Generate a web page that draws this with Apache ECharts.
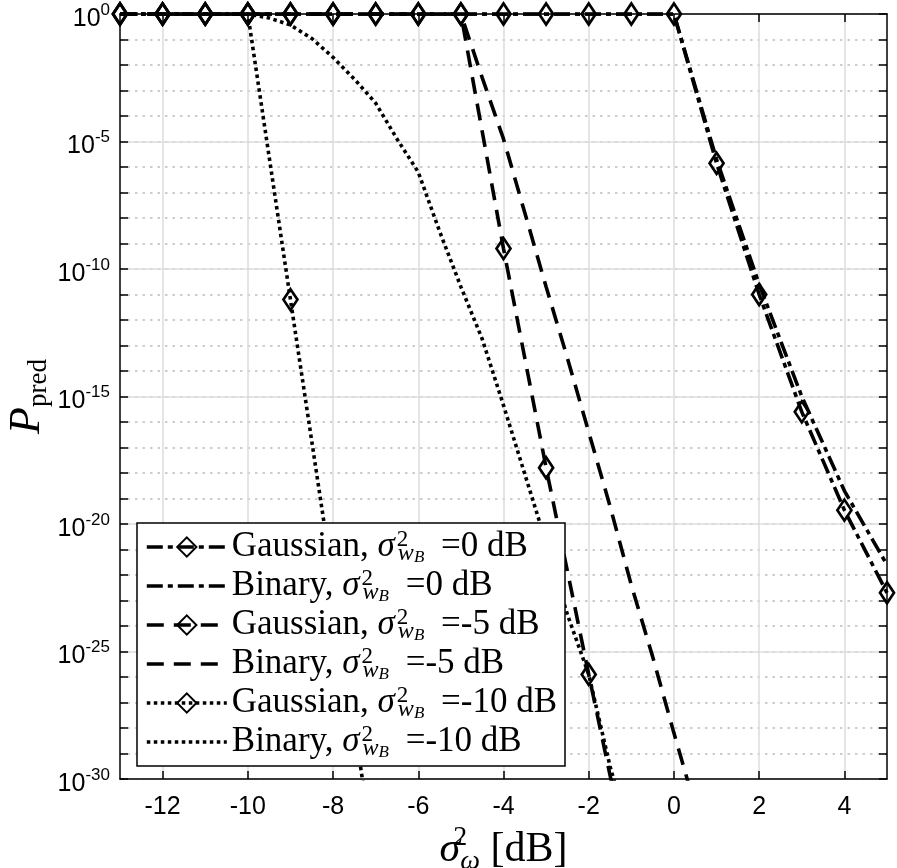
<!DOCTYPE html>
<html><head><meta charset="utf-8">
<script src="https://cdn.jsdelivr.net/npm/echarts@6/dist/echarts.min.js"></script>
<style>html,body{margin:0;padding:0;background:#fff}#c{width:897px;height:868px}</style>
</head><body><div id="c"></div>
<script>
// ---- data ----
const xGauss0 = [-13,-12,-11,-10,-9,-8,-7,-6,-5,-4,-3,-2,-1,0,1,2,3,4,5];
const yGauss0 = [1,1,1,1,1,1,1,1,1,1,1,1,1,1,1.4e-6,1e-11,2.5e-16,3.5e-20,2e-23];
const xBinary0 = [-13,-12,-11,-10,-9,-8,-7,-6,-5,-4,-3,-2,-1,0,1,2,3,4,5];
const yBinary0 = [1,1,1,1,1,1,1,1,1,1,1,1,1,1,2e-6,2.5e-11,1e-15,2e-19,2.5e-22];
const xGaussM5 = [-13,-12,-11,-10,-9,-8,-7,-6,-5,-4,-3,-2,-1];
const yGaussM5 = [1,1,1,1,1,1,1,1,1,6.3e-10,1.6e-18,1.26e-26,1.6e-34];
const xBinaryM5 = [-13,-12,-11,-10,-9,-8,-7,-6,-5,-4.5,-4,-3.5,-3,-2.5,-2,-1.5,-1,-0.5,0,0.5];
const yBinaryM5 = [1,1,1,1,1,1,1,1,1,3.2e-3,1.26e-5,1.6e-8,2e-11,3.2e-14,4e-17,5e-20,4e-23,6.3e-26,6.3e-29,8e-32];
const xGaussM10 = [-13,-12,-11,-10,-9,-8,-7];
const yGaussM10 = [1,1,1,1,6.3e-12,5e-23,3.2e-34];
const xBinaryM10 = [-13,-12,-11,-10,-9.5,-9,-8.5,-8,-7.5,-7,-6.5,-6,-5.5,-5,-4.5,-4,-3.5,-3,-2.5,-2,-1.5,-1];
const yBinaryM10 = [1,1,1,1,0.7,0.37,0.11,0.02,2.8e-3,3.2e-4,1.26e-5,6.3e-7,3e-9,2e-11,1.8e-13,4.5e-16,9e-19,1.8e-21,2.8e-24,1.26e-26,3.2e-30,3.2e-33];

const seriesKinds = ['Gaussian','Binary','Gaussian','Binary','Gaussian','Binary'];
const seriesLevels = ['0','0','-5','-5','-10','-10'];
const seriesNames = ['Gaussian, 0 dB','Binary, 0 dB','Gaussian, -5 dB','Binary, -5 dB','Gaussian, -10 dB','Binary, -10 dB'];

const xTickValues = [-12,-10,-8,-6,-4,-2,0,2,4];
const yDecadeTicks = [1,1e-1,1e-2,1e-3,1e-4,1e-5,1e-6,1e-7,1e-8,1e-9,1e-10,1e-11,1e-12,1e-13,1e-14,1e-15,1e-16,1e-17,1e-18,1e-19,1e-20,1e-21,1e-22,1e-23,1e-24,1e-25,1e-26,1e-27,1e-28,1e-29,1e-30];
const yLabelValues = [1,1e-5,1e-10,1e-15,1e-20,1e-25,1e-30];

// ---- build ----
const zip = (xs, ys) => xs.map((x, i) => [x, ys[i]]);
const dashDot = [16, 5, 5, 5];
const dashed = [17, 10];
const dotted = [3.5, 3.5];
const LW = 3.6;

const markerStyle = {color: 'none', borderColor: '#000', borderWidth: 2.8};
const noMarkerStyle = {color: 'none', borderColor: 'none', borderWidth: 0};
function mk(name, xs, ys, dash, marker) {
  return {
    name, type: 'line', data: zip(xs, ys),
    symbol: marker ? 'diamond' : 'none', symbolSize: [14, 21], showSymbol: !!marker,
    itemStyle: marker ? markerStyle : noMarkerStyle,
    lineStyle: {color: '#000', width: LW, type: dash, cap: 'butt'},
    animation: false, clip: true, z: 3
  };
}

const series = [
  mk(seriesNames[0], xGauss0, yGauss0, dashDot, true),
  mk(seriesNames[1], xBinary0, yBinary0, dashDot, false),
  mk(seriesNames[2], xGaussM5, yGaussM5, dashed, true),
  mk(seriesNames[3], xBinaryM5, yBinaryM5, dashed, false),
  mk(seriesNames[4], xGaussM10, yGaussM10, dotted, true),
  mk(seriesNames[5], xBinaryM10, yBinaryM10, dotted, false)
];

const serif = 'Liberation Serif';
const sans = 'Liberation Sans';
const axisLineStyle = {color: '#000', width: 1.5};

const chart = echarts.init(document.getElementById('c'), null, {renderer: 'canvas'});
chart.setOption({
  animation: false,
  backgroundColor: '#fff',
  grid: {left: 120, right: 10, top: 14, bottom: 89, containLabel: false, outerBoundsMode: 'none'},
  legend: {
    left: 137, top: 523, orient: 'vertical',
    data: seriesNames,
    itemWidth: 80, itemHeight: 24, itemGap: 1,
    padding: [5, 8, 5, 8],
    backgroundColor: '#fff', borderColor: '#000', borderWidth: 1.5, borderRadius: 0,
    selectedMode: false,
    lineStyle: {width: LW},
    formatter: function (name) {
      const i = seriesNames.indexOf(name);
      return '{t|' + seriesKinds[i] + ', }{s|σ}{sup|2}{sub|w}{subB|B}{t| =' + seriesLevels[i] + ' dB}';
    },
    textStyle: {
      color: '#000', fontFamily: serif, fontSize: 35, lineHeight: 38,
      rich: {
        t: {fontFamily: serif, fontSize: 35, color: '#000', lineHeight: 38},
        s: {fontFamily: serif, fontStyle: 'italic', fontSize: 35, color: '#000', lineHeight: 38},
        sup: {fontFamily: serif, fontSize: 23, color: '#000', verticalAlign: 'top', width: 0, padding: [0, 0, 0, 2]},
        sub: {fontFamily: serif, fontStyle: 'italic', fontSize: 24, color: '#000', verticalAlign: 'bottom', padding: [0, 0, 0, 1]},
        subB: {fontFamily: serif, fontStyle: 'italic', fontSize: 17, color: '#000', verticalAlign: 'bottom', padding: [0, 8, 0, 0]}
      }
    }
  },
  xAxis: [
    {
      type: 'value', min: -13, max: 5, position: 'bottom',
      axisLine: {show: true, onZero: false, lineStyle: axisLineStyle},
      axisTick: {show: true, inside: true, length: 8, customValues: xTickValues, lineStyle: axisLineStyle},
      axisLabel: {customValues: xTickValues, fontFamily: sans, fontSize: 25, color: '#000', margin: 16},
      splitLine: {show: true, lineStyle: {color: '#dcdcdc', width: 1.5}},
      name: '{s|σ}{sup|2}{sub|ω}{t| [dB]}',
      nameLocation: 'middle', nameGap: 45, nameMoveOverlap: false,
      nameTextStyle: {
        color: '#000', fontFamily: serif, fontSize: 42, lineHeight: 52,
        rich: {
          s: {fontFamily: serif, fontStyle: 'italic', fontSize: 42, color: '#000'},
          sup: {fontFamily: serif, fontSize: 28, color: '#000', verticalAlign: 'top', width: 0, lineHeight: 14},
          sub: {fontFamily: serif, fontStyle: 'italic', fontSize: 28, color: '#000', verticalAlign: 'bottom', lineHeight: 24},
          t: {fontFamily: serif, fontSize: 42, color: '#000'}
        }
      }
    },
    {
      type: 'value', min: -13, max: 5, position: 'top',
      axisLine: {show: true, onZero: false, lineStyle: axisLineStyle},
      axisTick: {show: true, inside: true, length: 8, customValues: xTickValues, lineStyle: axisLineStyle},
      axisLabel: {show: false},
      splitLine: {show: false}
    }
  ],
  yAxis: [
    {
      type: 'log', logBase: 10, min: 1e-30, max: 1, position: 'left',
      axisLine: {show: true, onZero: false, lineStyle: axisLineStyle},
      axisTick: {show: true, inside: true, length: 8, customValues: yDecadeTicks, lineStyle: axisLineStyle},
      axisLabel: {
        customValues: yLabelValues, margin: 10,
        formatter: function (v) { return '{b|10}{e|' + Math.round(Math.log10(v)) + '}'; },
        rich: {
          b: {fontFamily: sans, fontSize: 25, color: '#000', padding: [10, 0, 0, 0]},
          e: {fontFamily: sans, fontSize: 17, color: '#000', verticalAlign: 'top', padding: [5, 0, 0, 0]}
        }
      },
      splitLine: {show: true, lineStyle: {color: '#bdbdbd', width: 1.5, type: [2.5, 5]}},
      name: '{P|P}{sub|pred}',
      nameLocation: 'middle', nameGap: 68, nameRotate: 90, nameMoveOverlap: false,
      nameTextStyle: {
        color: '#000', fontFamily: serif, fontSize: 44, lineHeight: 50,
        rich: {
          P: {fontFamily: serif, fontStyle: 'italic', fontSize: 44, color: '#000'},
          sub: {fontFamily: serif, fontSize: 27, color: '#000', verticalAlign: 'bottom'}
        }
      }
    },
    {
      type: 'log', logBase: 10, min: 1e-30, max: 1, position: 'right',
      axisLine: {show: true, onZero: false, lineStyle: axisLineStyle},
      axisTick: {show: true, inside: true, length: 8, customValues: yDecadeTicks, lineStyle: axisLineStyle},
      axisLabel: {show: false},
      splitLine: {show: false}
    },
    {
      type: 'log', logBase: 10, min: 1e-30, max: 1, position: 'left',
      axisLine: {show: false, onZero: false},
      axisTick: {show: false, customValues: yLabelValues},
      axisLabel: {show: false},
      splitLine: {show: true, lineStyle: {color: '#dcdcdc', width: 1.5}}
    }
  ],
  series: series
});
</script>
</body></html>
